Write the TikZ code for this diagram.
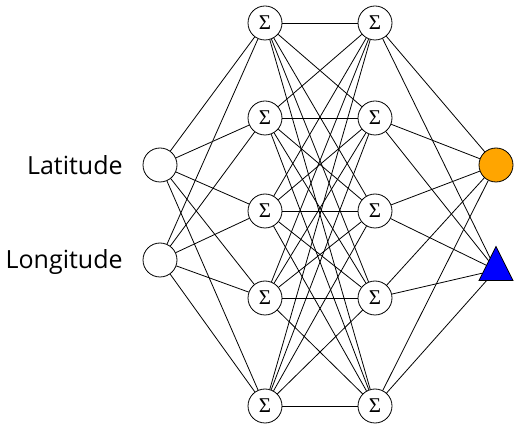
\documentclass[tikz,border=0pt]{standalone}
\usepackage{fontspec}
\usepackage{xcolor}
\usepackage{tikz}
\usetikzlibrary{arrows.meta, positioning, shapes.geometric}
\newfontfamily\labelfont{Open Sans}
\newfontfamily\sumfont{Liberation Serif}
\definecolor{outorange}{RGB}{255,165,0}
\definecolor{outblue}{RGB}{0,0,255}

\begin{document}
\begin{tikzpicture}[x=1pt, y=-1pt, >=Stealth, line width=0.8pt,
  neuron/.style={circle, draw, fill=white, minimum size=34pt, inner sep=0pt,
    font=\sumfont\fontsize{21}{24}\selectfont},
  inlabel/.style={anchor=east, inner sep=0pt, font=\labelfont\fontsize{25}{30}\selectfont}]

\useasboundingbox (0,0) rectangle (520,430);

% inputs
\node[neuron] (in1) at (160,165) {};
\node[neuron] (in2) at (160,260) {};
\node[inlabel] (lat) at (123,165) {Latitude};
\node[inlabel] (lon) at (123,262) {Longitude};

% hidden layers
\foreach \y [count=\j] in {23,118,211,298,406} {
  \node[neuron] (ha\j) at (265,\y) {Σ};
  \node[neuron] (hb\j) at (375,\y) {Σ};
}

% outputs
\node[neuron, fill=outorange] (out1) at (496,165) {};
\node[isosceles triangle, isosceles triangle apex angle=53, shape border rotate=90,
  draw, fill=outblue, inner sep=0pt, minimum height=34pt] (out2) at (496,270) {};

\foreach \i in {1,2} {
  \foreach \j in {1,...,5} {
    \draw (in\i) -- (ha\j);
  }
}

\foreach \i in {1,...,5} {
  \foreach \j in {1,...,5} {
    \draw (ha\i) -- (hb\j);
  }
  \draw (hb\i) -- (out1);
  \draw (hb\i) -- (out2);
}

\end{tikzpicture}
\end{document}
